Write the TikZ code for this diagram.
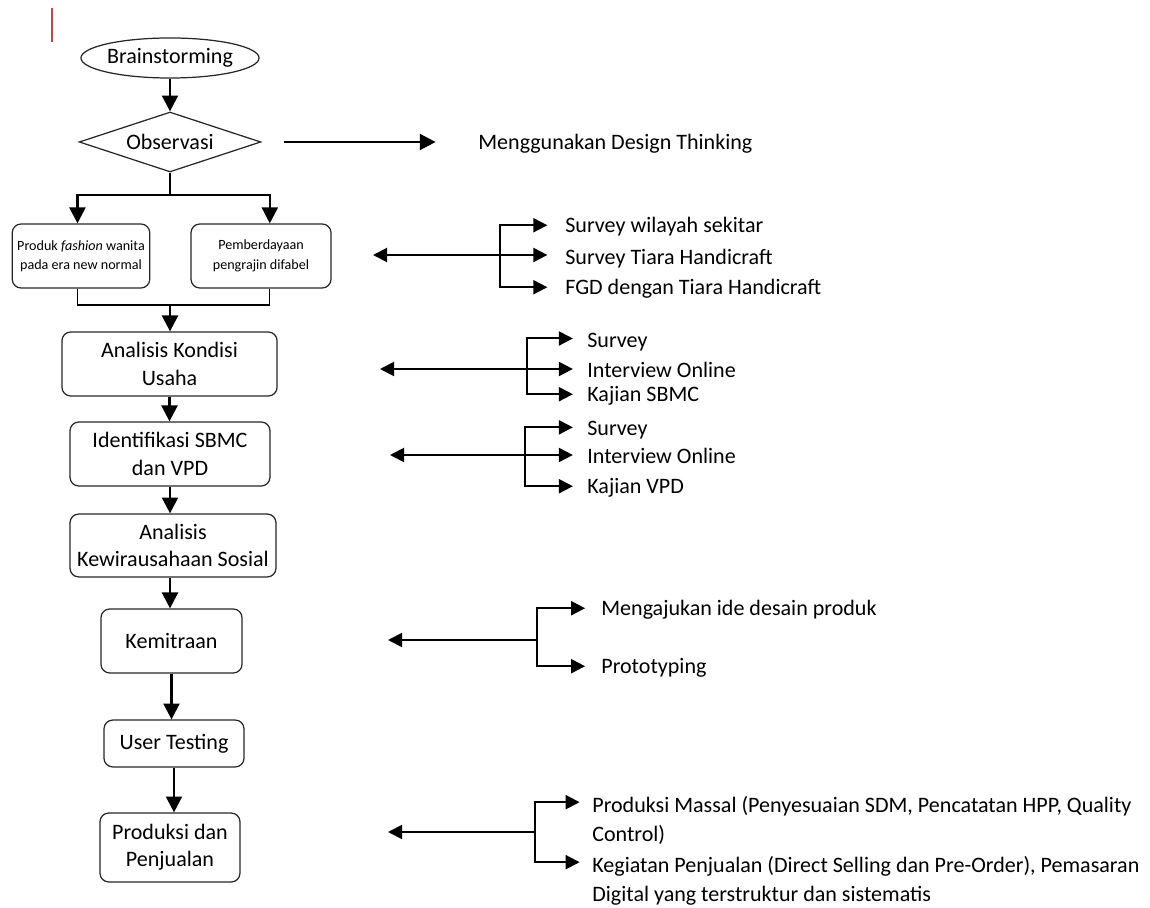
\documentclass[tikz,border=0pt]{standalone}
\usepackage{fontspec}
\setmainfont{Carlito}
\usetikzlibrary{arrows.meta,shapes.geometric,positioning}

\tikzset{
  box/.style={draw=black!85, line width=0.7pt, rounded corners=5pt, align=center, inner sep=1pt,
    font=\fontsize{12.5}{15.5}\selectfont},
  flow/.style={-{Triangle[length=9pt,width=9pt]}, line width=1.4pt},
  side/.style={-{Triangle[length=8pt,width=8pt]}, line width=1.1pt, shorten >=8pt},
  both/.style={{Triangle[length=8pt,width=8pt]}-{Triangle[length=8pt,width=8pt]}, line width=1.1pt, shorten >=8pt},
  item/.style={anchor=west, inner sep=0pt, align=left, font=\fontsize{12.5}{16.4}\selectfont},
}

\begin{document}
\begin{tikzpicture}[x=0.567pt, y=-0.567pt]
	\useasboundingbox (0,0) rectangle (1150,908);
	
	% Cursor mark
	\draw[red!60!black!70, line width=0.8pt] (52,8) -- (52,42);
	
	% Main column
	\node[draw=black!85, line width=0.7pt, ellipse, minimum width=94pt, minimum height=22.7pt, inner sep=0pt,
	  font=\fontsize{12.5}{15}\selectfont] (brain) at (170,58) {Brainstorming};
	\node[draw=black!85, line width=0.7pt, diamond, aspect=3, minimum width=103pt, minimum height=34pt, inner sep=0pt,
	  font=\fontsize{12.5}{15}\selectfont] (obs) at (170,142) {Observasi};
	\node[box, minimum width=78pt, minimum height=36.3pt, font=\fontsize{8}{11}\selectfont] (fashion) at (81,256)
	  {Produk \textit{fashion} wanita\\pada era new normal};
	\node[box, minimum width=79.4pt, minimum height=36.3pt, font=\fontsize{8}{11}\selectfont] (difabel) at (261,256)
	  {Pemberdayaan\\pengrajin difabel};
	\node[box, minimum width=122pt, minimum height=36.3pt] (kondisi) at (169.5,364) {Analisis Kondisi\\Usaha};
	\node[box, minimum width=113.4pt, minimum height=36.3pt] (sbmc) at (170,454) {Identifikasi SBMC\\dan VPD};
	\node[box, minimum width=116.8pt, minimum height=35.7pt] (sosial) at (173,545.5) {Analisis\\Kewirausahaan Sosial};
	\node[box, minimum width=80pt, minimum height=36.3pt] (mitra) at (171.5,641) {Kemitraan};
	\node[box, minimum width=79.4pt, minimum height=26.6pt] (testing) at (174,743.5) {User Testing};
	\node[box, minimum width=79.4pt, minimum height=39.1pt] (jual) at (170,847.5) {Produksi dan\\Penjualan};
	
	% Main arrows
	\draw[flow] (brain.south) -- (brain.south |- obs.north);
	\coordinate (split) at (170,195);
	\coordinate (merge) at (170,305);
	\draw[line width=0.7pt] (obs.south) -- (split);
	\draw[flow] (split) -| ([xshift=-2pt]fashion.north);
	\draw[flow] (split) -| ([xshift=5pt]difabel.north);
	\draw[line width=0.7pt] ([xshift=-2pt]fashion.south) |- (merge) -| ([xshift=5pt]difabel.south);
	\draw[flow] (merge) -- (merge |- kondisi.north);
	\draw[flow] (kondisi.south) -- (kondisi.south |- sbmc.north);
	\draw[flow] (sbmc.south) -- (sbmc.south |- sosial.north);
	\draw[flow] (sbmc.south |- sosial.south) -- (sbmc.south |- mitra.north);
	\draw[flow] (mitra.south) -- (mitra.south |- testing.north);
	\draw[flow] (testing.south) -- (testing.south |- jual.north);
	
	% Design thinking
	\node[item] (design) at (478,144) {Menggunakan Design Thinking};
	\draw[flow, shorten <=13pt, shorten >=24pt] (obs.east) -- (obs.east -| design.west);
	
	% Group 1
	\node[item] (wilayah) at (565,227) {Survey wilayah sekitar};
	\node[item] (tiara) at (565,259) {Survey Tiara Handicraft};
	\node[item] (fgd) at (565,289) {FGD dengan Tiara Handicraft};
	\coordinate (l1) at (373,255);
	\coordinate (k1) at (500,255);
	\draw[both, shorten >=10pt] (l1) -- (l1 -| tiara.west);
	\draw[side, shorten >=10pt] (k1) |- ([yshift=1pt]wilayah.west);
	\draw[side, shorten >=10pt] (k1) |- ([yshift=1pt]fgd.west);
	
	% Group 2
	\node[item] (survey1) at (587,342) {Survey};
	\node[item] (online1) at (587,370) {Interview Online};
	\node[item] (kajian1) at (587,396) {Kajian SBMC};
	\coordinate (l2) at (380,369);
	\coordinate (k2) at (527,369);
	\draw[both] (l2) -- (l2 -| online1.west);
	\draw[side] (k2) |- ([yshift=2pt]survey1.west);
	\draw[side] (k2) |- ([yshift=1pt]kajian1.west);
	
	% Group 3
	\node[item] (survey2) at (587,430) {Survey};
	\node[item] (online2) at (587,456) {Interview Online};
	\node[item] (kajian2) at (587,488) {Kajian VPD};
	\coordinate (l3) at (390,455);
	\coordinate (k3) at (525,455);
	\draw[both] (l3) -- (l3 -| online2.west);
	\draw[side] (k3) |- ([yshift=1.5pt]survey2.west);
	\draw[side] (k3) |- ([yshift=1pt]kajian2.west);
	
	% Group 4
	\node[item] (ide) at (601,610) {Mengajukan ide desain produk};
	\node[item] (proto) at (601,668) {Prototyping};
	\coordinate (l4) at (388,640);
	\coordinate (k4) at (537,640);
	\draw[side, shorten >=0pt] (k4) -- (l4);
	\draw[side, shorten >=9pt] (k4) |- ([yshift=1pt]ide.west);
	\draw[side, shorten >=9pt] (k4) |- ([yshift=1pt]proto.west);
	
	% Group 5
	\node[item, anchor=north west] (massal) at (592,796)
	  {Produksi Massal (Penyesuaian SDM, Pencatatan HPP, Quality\\Control)};
	\node[item, anchor=north west] (kegiatan) at (592,856)
	  {Kegiatan Penjualan (Direct Selling dan Pre-Order), Pemasaran\\Digital yang terstruktur dan sistematis};
	\coordinate (l5) at (388,832);
	\coordinate (k5) at (535,832);
	\draw[side, shorten >=0pt] (k5) -- (l5);
	\draw[side, shorten >=7pt] (k5) |- ([yshift=-3.5pt]massal.north west);
	\draw[side, shorten >=7pt] (k5) |- ([yshift=-3.5pt]kegiatan.north west);
	
\end{tikzpicture}
\end{document}
